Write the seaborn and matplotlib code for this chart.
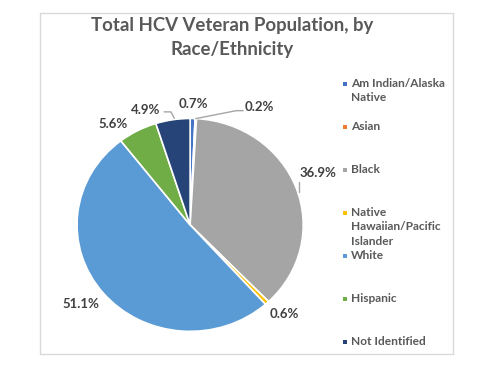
import numpy as np
import matplotlib
matplotlib.use("Agg")
import matplotlib.pyplot as plt
from matplotlib.patches import Rectangle
import seaborn as sns

# data
groups = ["Am Indian/Alaska\nNative", "Asian", "Black",
          "Native\nHawaiian/Pacific\nIslander", "White", "Hispanic", "Not Identified"]
shares = [0.7, 0.2, 36.9, 0.6, 51.1, 5.6, 4.9]
colors = ["#4472C4", "#ED7D31", "#A5A5A5", "#FFC000", "#5B9BD5", "#70AD47", "#264478"]

# label placement tweaks (radius, extra angle in degrees)
lab_r = [1.14, 1.26, 1.23, 1.18, 1.22, 1.17, 1.15]
lab_dang = [0, -26, 3, 2, -2, 8, 11]

sns.set_style("white")
plt.rcParams["font.family"] = ["Lato", "DejaVu Sans"]

fig = plt.figure(figsize=(4.8, 3.78), dpi=100)
ax = fig.add_axes([0.1016, 0.053, 0.589, 0.704])

wedges, _ = ax.pie(shares, colors=colors, startangle=90, counterclock=False,
                   wedgeprops=dict(edgecolor="white", linewidth=1.2))
ax.set_aspect("auto")
ax.set_xlim(-1.25, 1.25)
ax.set_ylim(-1.25, 1.25)

txt_col = "#404040"
line_col = "#A6A6A6"
for i, w in enumerate(wedges):
    mid = np.deg2rad((w.theta1 + w.theta2) / 2)
    ang = mid + np.deg2rad(lab_dang[i])
    pos = (lab_r[i] * np.cos(ang), lab_r[i] * np.sin(ang))
    ax.text(pos[0], pos[1], f"{shares[i]:.1f}%", ha="center", va="center",
            fontsize=9.5, fontweight="bold", color=txt_col)
    # leader lines for the labels that sit away from their slice
    edge = (np.cos(mid), np.sin(mid))
    if i == 1:
        tip = (pos[0] - 0.14, pos[1] - 0.03)
        knee = (tip[0] - 0.06, tip[1])
        ax.plot([edge[0], knee[0], tip[0]], [edge[1], knee[1], tip[1]],
                color=line_col, lw=1)
    elif i == 2:
        tip = (pos[0] - 0.17, pos[1] - 0.08)
        ax.plot([tip[0], tip[0]], [tip[1], tip[1] - 0.1], color=line_col, lw=1)
    elif i == 6:
        tip = (pos[0] + 0.16, pos[1] - 0.02)
        knee = (tip[0] + 0.06, tip[1])
        ax.plot([tip[0], knee[0], knee[0] + 0.03], [tip[1], knee[1], knee[1] - 0.06],
                color=line_col, lw=1)

# title
fig.text(0.483, 0.901, "Total HCV Veteran Population, by\nRace/Ethnicity",
         ha="center", va="center", fontsize=13.4, fontweight="bold",
         color="#595959", linespacing=1.5)

# legend, Excel style: equal spacing per entry
leg_top = 1 - 84 / 378
leg_step = 43 / 378
for i, (g, c) in enumerate(zip(groups, colors)):
    y = leg_top - i * leg_step
    fig.add_artist(Rectangle((343 / 480, y - 2 / 378), 4 / 480, 4 / 378,
                             transform=fig.transFigure, color=c, lw=0))
    fig.text(351 / 480, y + 6 / 378, g, ha="left", va="top", fontsize=8.6,
             fontweight="bold", color="#595959", linespacing=1.38)

# chart frame
fig.add_artist(Rectangle((40 / 480, 24 / 378), 413 / 480, 341 / 378,
                         transform=fig.transFigure, fill=False,
                         edgecolor="#D9D9D9", lw=1))

fig.savefig("out.png", dpi=100)
